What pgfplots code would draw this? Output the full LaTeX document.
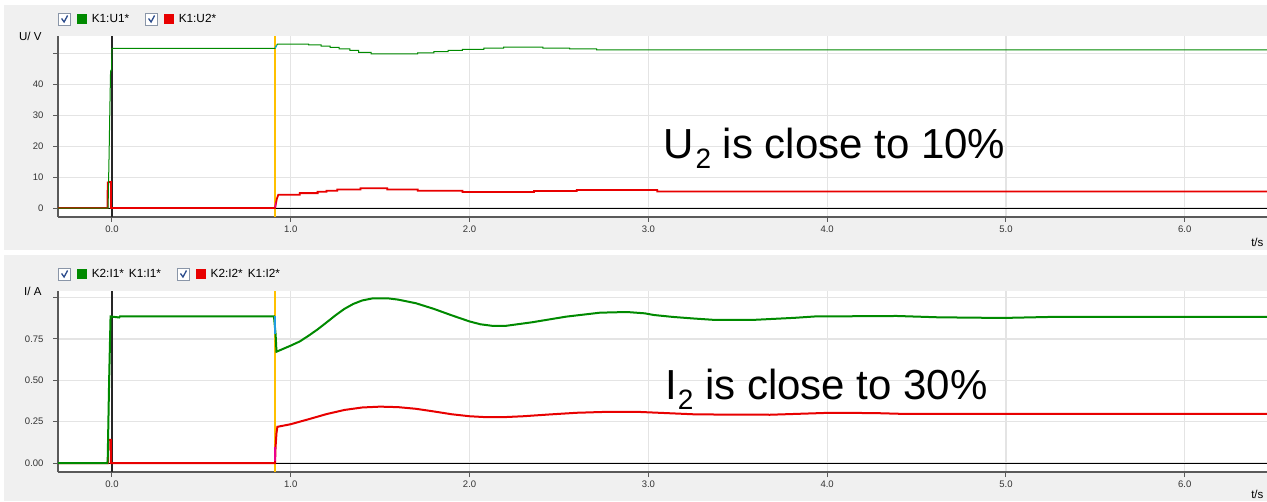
\documentclass[border=0pt]{standalone}
\usepackage{pgfplots}
\pgfplotsset{compat=1.18}
\usepackage{fontspec}
\setmainfont{Liberation Sans}
\definecolor{bg}{HTML}{F0F0F0}
\definecolor{gridc}{HTML}{E4E4E4}
\definecolor{ugreen}{HTML}{008A00}
\definecolor{ured}{HTML}{E80000}
\definecolor{cursor}{HTML}{FFC000}
\definecolor{axc}{HTML}{5A5A5A}
\definecolor{chk}{HTML}{2C4C8C}
\definecolor{chkb}{HTML}{8A96A8}
\pgfplotsset{
  panel/.style={
    scale only axis, width=1209pt, height=181pt, anchor=south west,
    axis background/.style={fill=white},
    xmin=-0.302, xmax=6.46,
    axis x line*=bottom, axis y line*=left,
    axis line style={draw=axc, line width=1.2pt, -},
    xtick={0,1,2,3,4,5,6},
    xticklabels={0.0,1.0,2.0,3.0,4.0,5.0,6.0},
    tick align=outside, major tick length=5pt,
    tick style={draw=axc, line width=1pt},
    xmajorgrids, ymajorgrids,
    grid style={draw=gridc, line width=1.2pt},
    /pgf/number format/assume math mode=true,
    ticklabel style={font=\fontsize{9.5}{11}\selectfont, text=black!80},
    yticklabel style={xshift=-6pt},
    every axis y label/.style={at={(axis description cs:0,1)}, anchor=east, xshift=-13pt, font=\fontsize{11.5}{13}\selectfont},
    every axis x label/.style={at={(axis description cs:1,0)}, anchor=north east, yshift=-18pt, font=\fontsize{11.5}{13}\selectfont},
    legend style={at={(axis description cs:0,1)}, anchor=west, yshift=17pt,
      draw=none, fill=none, inner xsep=0pt, font=\fontsize{11.8}{13}\selectfont,
      /tikz/every even column/.append style={column sep=14pt}},
    legend columns=-1,
    clip=true,
  },
  chkbox/.style={legend image code/.code={
    \draw[draw=chkb, fill=white, line width=0.8pt] (0pt,-6pt) rectangle (12pt,6pt);
    \draw[draw=chk, line width=1.3pt] (3pt,0.5pt) -- (5.5pt,-3pt) -- (9pt,3.5pt);
    \fill[#1] (19pt,-4.5pt) rectangle (28pt,4.5pt);
    \path (31pt,0pt);
  }},
}
\begin{document}
\begin{tikzpicture}[x=1pt,y=1pt]
\useasboundingbox (0,0) rectangle (1267,501);
\fill[bg] (4,251) rectangle (1267,496);
\fill[bg] (4,0) rectangle (1267,246);

% ---------- top panel ----------
\begin{axis}[panel, at={(58pt,284pt)},
  ymin=-2.9, ymax=55.8,
  ytick={0,10,20,30,40,50}, yticklabels={0,10,20,30,40,{}},
  ylabel={U/ V}, xlabel={t/s}]
\addlegendimage{chkbox=ugreen}
\addlegendentry{K1:U1*}
\addlegendimage{chkbox=ured}
\addlegendentry{K1:U2*}
\addplot[black, line width=1pt] coordinates {(-0.302,0)(6.46,0)};
\addplot[black!85, line width=1.1pt] coordinates {(0,-2.9)(0,55.8)};
\addplot[cursor, line width=2pt] coordinates {(0.912,-2.9)(0.912,55.8)};
\addplot[ured, line width=1.8pt] coordinates {
(-0.302,0)(-0.025,0)(-0.024,8.3)(-0.006,8.5)(-0.005,0)(0.912,0)(0.922,3.0)(0.93,4.3)
(1.05,4.3)(1.05,4.85)(1.15,4.85)(1.15,5.3)(1.20,5.3)(1.20,5.6)(1.26,5.6)(1.26,6.05)
(1.39,6.05)(1.39,6.4)(1.54,6.4)(1.54,6.05)(1.71,6.05)(1.71,5.6)(1.96,5.6)(1.96,5.2)
(2.36,5.2)(2.36,5.5)(2.60,5.5)(2.60,5.85)(3.05,5.85)(3.05,5.4)(6.46,5.4)};
\addplot[ugreen, line width=1pt] coordinates {
(-0.302,0)(-0.022,0)(-0.016,18)(-0.012,32)(-0.008,44.5)(-0.003,44.5)(0,51.8)
(0.912,51.8)(0.925,53.2)(1.10,53.2)(1.10,52.9)(1.17,52.9)(1.17,52.5)(1.22,52.5)
(1.22,52.1)(1.27,52.1)(1.27,51.6)(1.33,51.6)(1.33,51.1)(1.38,51.1)(1.38,50.5)
(1.45,50.5)(1.45,50.0)(1.71,50.0)(1.71,50.3)(1.80,50.3)(1.80,50.7)(1.88,50.7)
(1.88,51.1)(1.96,51.1)(1.96,51.5)(2.08,51.5)(2.08,51.9)(2.19,51.9)(2.19,52.2)
(2.41,52.2)(2.41,51.9)(2.56,51.9)(2.56,51.6)(2.71,51.6)(2.71,51.3)(6.46,51.3)};
\addplot[cyan, line width=1pt] coordinates {(0.913,51.8)(0.92,52.8)};
\addplot[magenta, line width=1.5pt] coordinates {(0.913,0.2)(0.916,1.8)};
\end{axis}

% ---------- bottom panel ----------
\begin{axis}[panel, at={(58pt,29pt)},
  ymin=-0.054, ymax=1.04,
  ytick={0,0.25,0.5,0.75,1}, yticklabels={0.00,0.25,0.50,0.75,{}},
  ylabel={I/ A}, xlabel={t/s}, every axis x label/.append style={yshift=3pt}]
\addlegendimage{chkbox=ugreen}
\addlegendentry{K2:I1*\hspace{5pt}K1:I1*}
\addlegendimage{chkbox=ured}
\addlegendentry{K2:I2*\hspace{5pt}K1:I2*}
\addplot[black, line width=1pt] coordinates {(-0.302,0)(6.46,0)};
\addplot[black!85, line width=1.1pt] coordinates {(0,-0.054)(0,1.04)};
\addplot[cursor, line width=2pt] coordinates {(0.912,-0.054)(0.912,1.04)};
\addplot[ured, line width=2pt] coordinates {
(-0.302,0)(-0.022,0)(-0.02,0.14)(-0.006,0.14)(-0.005,0)(0.912,0)(0.915,0.1)(0.92,0.18)
(0.925,0.219)(1.0,0.235)(1.1,0.265)(1.2,0.296)(1.3,0.321)(1.4,0.336)(1.5,0.341)
(1.6,0.338)(1.7,0.328)(1.8,0.312)(1.9,0.295)(2.0,0.283)(2.1,0.277)(2.2,0.278)
(2.3,0.283)(2.45,0.294)(2.6,0.304)(2.75,0.309)(2.95,0.309)(3.10,0.302)(3.27,0.294)
(3.68,0.292)(3.85,0.298)(4.02,0.304)(4.27,0.302)(4.4,0.298)(6.46,0.298)};
\addplot[ugreen, line width=2pt] coordinates {
(-0.302,0)(-0.026,0)(-0.024,0.02)(-0.022,0.14)(-0.016,0.5)(-0.008,0.886)(0.04,0.88)
(0.045,0.887)(0.906,0.887)(0.915,0.78)(0.92,0.673)(1.0,0.71)(1.05,0.735)(1.1,0.77)
(1.15,0.808)(1.2,0.85)(1.25,0.893)(1.3,0.932)(1.35,0.962)(1.4,0.983)(1.46,0.996)
(1.54,0.996)(1.6,0.988)(1.7,0.966)(1.8,0.932)(1.9,0.893)(2.0,0.856)(2.06,0.839)
(2.13,0.829)(2.2,0.829)(2.35,0.851)(2.54,0.885)(2.73,0.909)(2.88,0.913)(2.98,0.905)
(3.03,0.895)(3.14,0.883)(3.25,0.874)(3.36,0.866)(3.58,0.865)(3.71,0.872)(3.82,0.878)
(3.93,0.886)(4.39,0.889)(4.62,0.881)(4.98,0.877)(5.24,0.883)(6.46,0.883)};
\addplot[cyan!80!blue!90, line width=2pt] coordinates {(0.912,0.887)(0.912,0.78)};
\addplot[magenta, line width=2pt] coordinates {(0.912,0.01)(0.912,0.1)};
\end{axis}

\node[anchor=base west, inner sep=0pt] at (663,342)
  {\fontsize{42}{44}\selectfont U\kern2pt\raisebox{-10pt}{\fontsize{28}{28}\selectfont 2} is close to 10\%};
\node[anchor=base west, inner sep=0pt] at (665,101)
  {\fontsize{42}{44}\selectfont I\kern1pt\raisebox{-10pt}{\fontsize{28}{28}\selectfont 2} is close to 30\%};
\end{tikzpicture}
\end{document}
